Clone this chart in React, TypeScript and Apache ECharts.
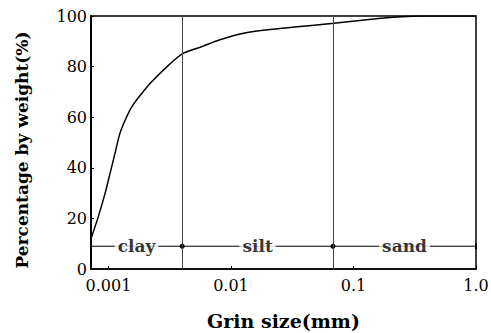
import React, { useEffect, useRef } from "react";
import * as echarts from "echarts";

// Grain size distribution curve (mm, % finer by weight)
const grainSize = [0.00072, 0.000826, 0.000938, 0.00103, 0.00113, 0.00124, 0.00137, 0.00155, 0.00187, 0.00225, 0.0031, 0.0041, 0.0058, 0.008, 0.0127, 0.0223, 0.069, 0.167, 0.244, 0.355, 1.0];
const percentFiner = [12, 20.7, 29.9, 37.8, 45.7, 53.6, 58.9, 64.1, 69.4, 74, 80.6, 85.3, 87.9, 90.5, 93.2, 94.8, 97.1, 99.1, 99.7, 100, 100];

// Soil classification zones
const zoneNames = ["clay", "silt", "sand"];
const zoneBounds = [0.00072, 0.004, 0.068, 1.0];
const zoneLevel = 9;

const xTickLabels: Record<string, string> = { "-3": "0.001", "-2": "0.01", "-1": "0.1", "0": "1.0" };

const SERIF = "'DejaVu Serif', 'Liberation Serif', serif";

export default function App() {
  const ref = useRef<HTMLDivElement>(null);
  useEffect(() => {
    if (!ref.current) return;
    const chart = echarts.init(ref.current, null, { renderer: "svg" });
    const bracketData = zoneBounds.map((b, i) => ({
      value: [b, zoneLevel],
      symbol: i === 0 || i === zoneBounds.length - 1 ? "rect" : "circle",
      symbolSize: i === 0 || i === zoneBounds.length - 1 ? [2, 6] : 5,
    }));
    const labelData = zoneNames.map((n, i) => ({
      name: n,
      value: [Math.sqrt(zoneBounds[i] * zoneBounds[i + 1]), zoneLevel],
    }));
    const boundaryLines = zoneBounds.slice(1, -1).map((b) => [
      { coord: [b, 0] },
      { coord: [b, 100] },
    ]);
    chart.setOption({
      animation: false,
      backgroundColor: "#fff",
      grid: {
        left: 91,
        right: 15,
        top: 16,
        bottom: 64,
        show: true,
        containLabel: false,
        outerBoundsMode: "none",
        borderColor: "#000",
        borderWidth: 1.5,
      },
      xAxis: {
        type: "log",
        logBase: 10,
        min: zoneBounds[0],
        max: zoneBounds[zoneBounds.length - 1],
        name: "Grin size(mm)",
        nameLocation: "middle",
        nameGap: 42,
        nameTextStyle: { fontFamily: SERIF, fontSize: 19, lineHeight: 19, fontWeight: "bold", color: "#000" },
        axisLine: { show: true, lineStyle: { color: "#000", width: 1.5 } },
        axisTick: { show: true, inside: true, length: 3, lineStyle: { color: "#000" } },
        splitLine: { show: false },
        minorTick: { show: false },
        axisLabel: {
          fontFamily: SERIF,
          fontSize: 16,
          color: "#000",
          margin: 8,
          formatter: (v: number) => {
            const l = Math.log10(v);
            const r = Math.round(l);
            if (Math.abs(l - r) > 1e-6) return "";
            return xTickLabels[String(r)] ?? "";
          },
        },
      },
      yAxis: {
        type: "value",
        min: 0,
        max: 100,
        interval: 20,
        name: "Percentage by weight(%)",
        nameLocation: "middle",
        nameGap: 61,
        nameTextStyle: { fontFamily: SERIF, fontSize: 17, fontWeight: "bold", color: "#000", padding: [0, 15, 0, 0] },
        axisLine: { show: true, lineStyle: { color: "#000", width: 2 } },
        axisTick: { show: true, inside: true, length: 3, lineStyle: { color: "#000" } },
        splitLine: { show: false },
        axisLabel: { fontFamily: SERIF, fontSize: 16, color: "#000", margin: 4 },
      },
      series: [
        {
          type: "line",
          data: grainSize.map((g, i) => [g, percentFiner[i]]),
          smooth: 0.3,
          showSymbol: false,
          symbol: "none",
          lineStyle: { color: "#000", width: 1.5 },
          z: 3,
        },
        {
          type: "line",
          data: bracketData,
          lineStyle: { color: "#000", width: 1 },
          itemStyle: { color: "#000" },
          z: 2,
          markLine: {
            silent: true,
            symbol: "none",
            label: { show: false },
            lineStyle: { color: "#444", width: 1, type: "solid" },
            data: boundaryLines,
          },
        },
        {
          type: "scatter",
          data: labelData,
          symbolSize: 0,
          z: 5,
          label: {
            show: true,
            position: "inside",
            formatter: "{b}",
            fontFamily: SERIF,
            fontSize: 17,
            fontWeight: "bold",
            color: "#000",
            backgroundColor: "#fff",
            padding: [0, 3],
          },
        },
      ],
    });
    return () => chart.dispose();
  }, []);
  return <div ref={ref} style={{ position: "fixed", left: 0, top: 0, width: 491, height: 333 }} />;
}
